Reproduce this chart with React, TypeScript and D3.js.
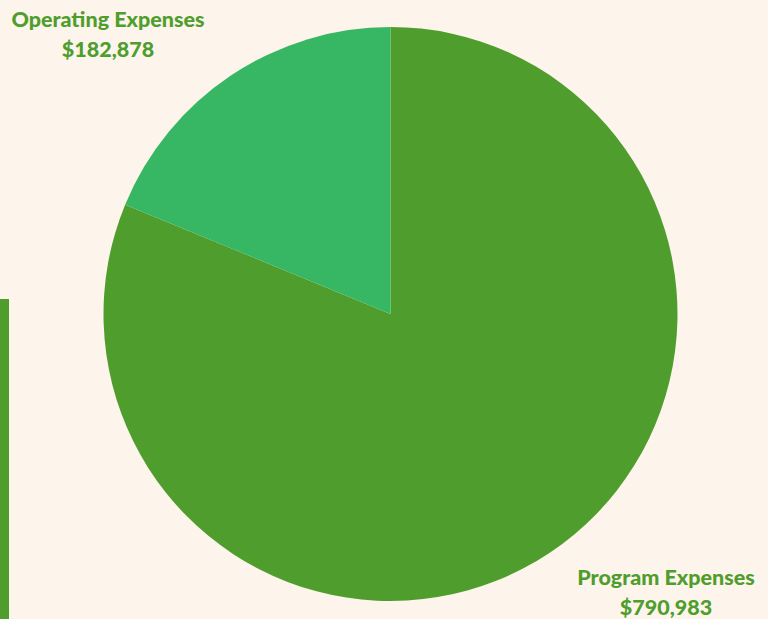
import React from "react";
import * as d3 from "d3";

const categories = ["Program Expenses", "Operating Expenses"];
const values = [790983, 182878];
const valueLabels = ["$790,983", "$182,878"];
const colors = ["#4f9e2d", "#37b763"];

export default function App() {
  const W = 768, H = 619;
  const cx = 390.5, cy = 314, r = 287;
  const pie = d3.pie<number>().sort(null).value((d) => d);
  const arcs = pie(values);
  const arc = d3.arc<d3.PieArcDatum<number>>().innerRadius(0).outerRadius(r);
  const labelColor = "#4f9e2d";
  const labelPos = [
    { x: 666, y: 585 },
    { x: 108, y: 27 },
  ];
  return (
    <svg width={W} height={H} style={{ position: "absolute", left: 0, top: 0 }}>
      <rect width={W} height={H} fill="#fdf4ec" />
      <rect x={0} y={299} width={9} height={H - 299} fill="#4f9e2d" />
      <g transform={`translate(${cx},${cy})`}>
        {arcs.map((a, i) => (
          <path key={i} d={arc(a) || ""} fill={colors[i]} />
        ))}
      </g>
      {categories.map((c, i) => (
        <g key={c} fontFamily="Lato" fontWeight="900" fill={labelColor} textAnchor="middle">
          <text x={labelPos[i].x} y={labelPos[i].y} fontSize={21.5}>{c}</text>
          <text x={labelPos[i].x} y={labelPos[i].y + 30} fontSize={21.5}>{valueLabels[i]}</text>
        </g>
      ))}
    </svg>
  );
}
